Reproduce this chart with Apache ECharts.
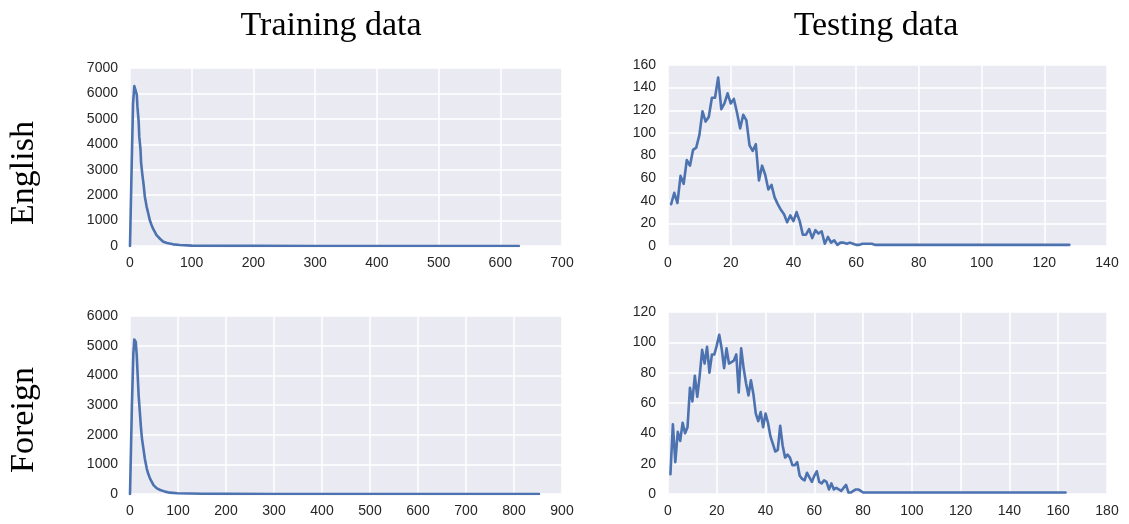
<!DOCTYPE html>
<html><head><meta charset="utf-8">
<script src="https://cdn.jsdelivr.net/npm/echarts/dist/echarts.min.js"></script>
<style>html,body{margin:0;padding:0;background:#fff}#c{width:1129px;height:524px}</style>
</head><body><div id="c"></div>
<script>
// Training data, English (sentence length vs count)
const trainEnX = [0, 3, 5, 7, 9, 10, 11, 12, 14, 15, 17, 18, 20, 22, 24, 27, 30, 32, 35, 38, 43, 49, 54, 60, 70, 81, 100, 150, 200, 300, 400, 500, 630];
const trainEnY = [0, 3500, 5620, 6290, 6330, 6270, 5950, 5490, 4900, 4310, 3790, 3270, 2810, 2420, 1950, 1540, 1240, 1020, 820, 650, 430, 275, 170, 118, 65, 39, 13, 5, 3, 1, 1, 1, 1];
// Training data, Foreign
const trainFrX = [0, 4, 7, 9, 10, 12, 14, 16, 18, 21, 23, 25, 28, 31, 35, 38, 42, 49, 56, 63, 73, 83, 99, 150, 200, 300, 500, 700, 852];
const trainFrY = [0, 2990, 4740, 5210, 5210, 5130, 4680, 4000, 3320, 2650, 2200, 1860, 1520, 1180, 850, 680, 510, 300, 190, 135, 80, 45, 23, 8, 4, 2, 1, 1, 1];
// Testing data, English
const testEnX = [1,2,3,4,5,6,7,8,9,10,11,12,13,14,15,16,17,18,19,20,21,22,23,24,25,26,27,28,29,30,31,32,33,34,35,36,37,38,39,40,41,42,43,44,45,46,47,48,49,50,51,52,53,54,55,56,57,58,59,60,61,62,63,64,65,66,128];
const testEnY = [37,47,38,62,55,76,71,85,87,98,119,110,114,131,131,149,121,126,135,126,130,118,104,116,111,89,84,90,58,71,63,50,54,43,37,32,28,21,27,22,30,22,10,10,15,7,14,11,13,2,8,3,5,1,3,3,2,3,2,1,1,2,2,2,2,1,1];
// Testing data, Foreign
const testFrX = [1,2,3,4,5,6,7,8,9,10,11,12,13,14,15,16,17,18,19,20,21,22,23,24,25,26,27,28,29,30,31,32,33,34,35,36,37,38,39,40,41,42,43,44,45,46,47,48,49,50,51,52,53,54,55,56,57,58,59,60,61,62,63,64,65,66,67,68,69,70,71,72,73,74,75,76,77,78,79,80,81,82,163];
const testFrY = [13,46,21,41,35,47,40,44,70,61,78,64,78,95,86,97,80,92,92,98,105,96,83,96,86,87,88,92,67,96,83,73,65,75,66,53,48,54,44,53,47,38,33,28,29,45,32,24,26,24,19,19,21,12,10,9,14,11,8,12,15,8,7,9,8,3,7,3,4,3,2,4,6,1,1,2,3,3,2,1,1,1,1];

const colTitles = ['Training data', 'Testing data'];
const rowTitles = ['English', 'Foreign'];
const xMax = [700, 140, 900, 180];
const xStep = [100, 20, 100, 20];
const yMax = [7000, 160, 6000, 120];
const yStep = [1000, 20, 1000, 20];

const panels = [[trainEnX, trainEnY], [testEnX, testEnY], [trainFrX, trainFrY], [testFrX, testFrY]];
const grids = [
  {left: 130, top: 68, width: 432, height: 178},
  {left: 668, top: 65, width: 439, height: 181},
  {left: 130, top: 316, width: 432, height: 178},
  {left: 668, top: 312, width: 439, height: 182}
];
const labelStyle = {fontFamily: 'Liberation Sans, Arial, sans-serif', fontSize: 14, color: '#262626', formatter: v => String(v)};
const serif = 'Liberation Serif, Times New Roman, serif';

const chart = echarts.init(document.getElementById('c'), null, {renderer: 'canvas'});
chart.setOption({
  animation: false,
  backgroundColor: '#ffffff',
  grid: grids.map(g => Object.assign({show: true, backgroundColor: '#EAEAF2', borderWidth: 0, containLabel: false}, g)),
  xAxis: grids.map((g, i) => ({
    type: 'value', gridIndex: i, min: 0, max: xMax[i], interval: xStep[i],
    axisLine: {show: false}, axisTick: {show: false},
    axisLabel: Object.assign({margin: 10}, labelStyle),
    splitLine: {show: true, lineStyle: {color: '#ffffff', width: 1.5}}
  })),
  yAxis: grids.map((g, i) => ({
    type: 'value', gridIndex: i, min: 0, max: yMax[i], interval: yStep[i],
    axisLine: {show: false}, axisTick: {show: false},
    axisLabel: Object.assign({margin: 12}, labelStyle),
    splitLine: {show: true, lineStyle: {color: '#ffffff', width: 1.5}}
  })),
  series: panels.map((p, i) => ({
    type: 'line', xAxisIndex: i, yAxisIndex: i, showSymbol: false, symbol: 'none',
    smooth: false, silent: true,
    lineStyle: {color: '#4C72B0', width: 2.6, join: 'round', cap: 'round'},
    data: p[0].map((x, k) => [x, p[1][k]])
  })),
  graphic: [
    {type: 'text', x: 331, y: 26, style: {text: colTitles[0], font: '34px ' + serif, fill: '#000', textAlign: 'center', textVerticalAlign: 'middle'}},
    {type: 'text', x: 876, y: 26, style: {text: colTitles[1], font: '34px ' + serif, fill: '#000', textAlign: 'center', textVerticalAlign: 'middle'}},
    {type: 'text', x: 24, y: 173, rotation: Math.PI / 2, style: {text: rowTitles[0], font: '34px ' + serif, fill: '#000', textAlign: 'center', textVerticalAlign: 'middle'}},
    {type: 'text', x: 24, y: 420, rotation: Math.PI / 2, style: {text: rowTitles[1], font: '34px ' + serif, fill: '#000', textAlign: 'center', textVerticalAlign: 'middle'}}
  ]
});
</script>
</body></html>
